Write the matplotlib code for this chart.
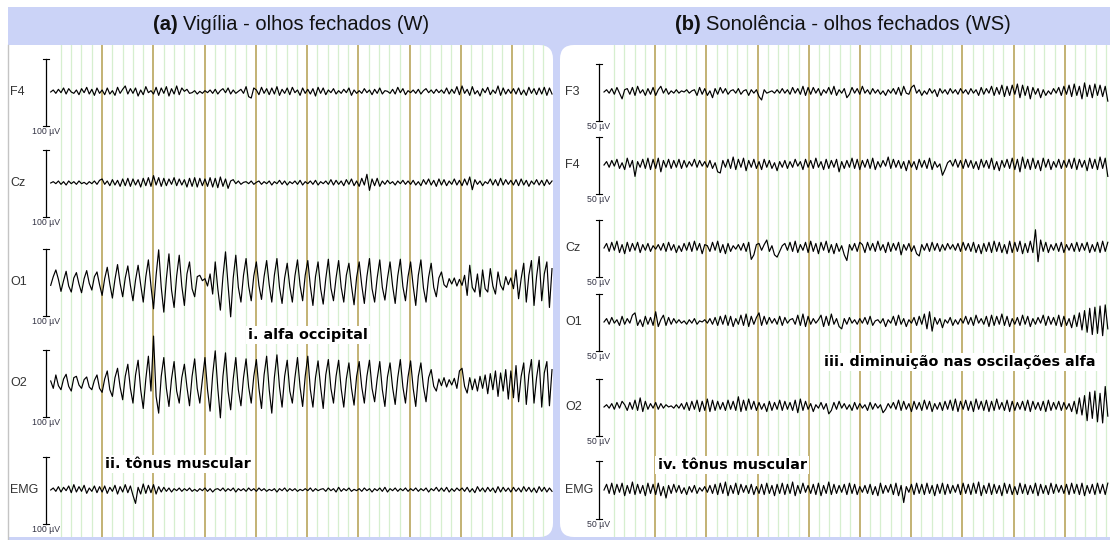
import numpy as np
import matplotlib
matplotlib.use('Agg')
import matplotlib.pyplot as plt
from matplotlib.patches import FancyBboxPatch, Rectangle

plt.rcParams['font.family'] = ['Liberation Sans', 'DejaVu Sans']

# ---- data (µV, ~40 samples per second) ----
# (a) Vigilia - olhos fechados, scale 100 uV
w_labels = ['F4', 'Cz', 'O1', 'O2', 'EMG']
w_f4 = [0,3,-2,4,-1,6,-3,5,0,-2,3,-4,5,-1,7,-3,4,-5,6,-2,
        3,-4,6,-3,2,-5,7,-2,4,9,-3,5,-2,6,-6,3,-4,8,-1,2,
        -3,7,-5,6,-2,8,-6,5,-3,9,-4,6,1,4,-2,-1,2,-3,1,-2,
        2,-1,3,-2,4,-3,2,5,-1,6,-3,3,-2,1,4,-2,8,-7,-9,6,
        3,-4,7,-2,5,-4,6,-3,8,-5,4,-2,6,-4,7,-1,3,-5,6,-2,
        4,-3,5,-6,7,-2,6,-4,3,-1,5,-3,2,-2,4,-1,6,-5,3,-2,
        2,-2,5,-1,3,-4,4,-2,6,-3,2,1,-2,4,-3,7,-1,5,-4,2,
        -1,3,-2,4,-3,2,5,-1,3,-2,4,-1,3,-2,6,-3,4,-2,8,-4,
        9,-2,4,-5,8,-3,2,-6,5,-1,7,-4,3,-2,9,-5,6,-3,4,-2,
        5,-3,6,-4,3,-5,7,-2,5,-4,6,-3,7,-5,6,-3]
w_cz = [0,2,-1,3,-2,2,-3,3,-1,2,-2,3,-1,1,-2,2,-1,3,-2,4,
        6,-2,3,-4,5,-3,4,-5,6,-4,7,-5,6,-3,5,-6,7,-4,8,-5,
        11,-3,8,-5,7,-4,6,-2,8,-4,6,-3,5,-6,7,-5,8,-6,7,-4,
        6,-5,8,-6,7,-7,9,-5,6,-8,3,5,-1,3,-2,1,2,-1,3,-2,
        1,3,-2,2,-1,3,-3,2,-1,4,-2,3,-3,2,-1,3,-2,4,-3,2,
        -1,3,-2,4,-3,2,-1,3,-2,5,-3,4,-2,3,-4,5,-2,6,-4,3,
        -5,7,-3,13,-11,6,-4,7,-5,3,-2,4,-1,2,-3,3,-1,4,-2,3,
        -2,4,-3,2,-4,5,-2,6,-3,4,-5,6,-3,5,-4,3,-2,6,-3,4,
        -4,6,-3,9,-10,5,-2,3,-4,2,-1,6,-3,5,-4,7,-3,5,-2,4,
        -3,5,-4,6,-3,4,-5,3,-2,5,-3,4,-4,5,-2,3]
w_o1 = [-5,8,18,4,-14,2,16,-6,-15,6,14,-3,-16,5,17,-2,-12,8,15,-4,
        -20,5,22,-3,-24,4,26,-2,-22,6,24,-5,-28,3,25,-4,-30,8,33,-6,
        -40,10,48,-8,-45,5,42,-12,-38,9,40,-6,-35,12,30,-10,-22,8,10,2,
        5,-6,12,-18,30,-10,-42,8,45,-5,-52,6,40,-8,-30,10,35,-6,-28,9,
        30,-5,-26,8,32,-4,-30,10,35,-8,-32,6,28,-7,-30,9,33,-5,-28,10,
        32,-6,-35,8,30,-10,-33,5,34,-9,-28,6,32,-8,-30,10,28,-6,-34,7,
        30,-5,-32,8,35,-10,-30,6,33,-8,-27,5,30,-6,-32,9,34,-7,-28,8,
        30,-6,-35,10,33,-9,-30,7,28,-8,-22,6,15,-4,-8,5,-3,6,-6,4,
        -5,10,-20,25,-8,-15,12,-22,18,-10,-15,20,-6,-18,15,-5,-12,8,-4,6,
        -10,18,-25,5,28,-30,10,32,-35,8,38,-28,12,30,-38,20]
w_o2 = [3,-8,12,-4,-10,6,13,-5,-12,8,10,-3,-8,5,9,-6,-10,4,12,-8,
        -14,6,18,-10,-20,8,22,-6,-25,10,28,-8,-30,12,34,-10,-38,6,40,-12,
        70,-20,-45,10,38,-8,-35,6,32,-12,-30,8,28,-6,-34,10,36,-8,-30,5,
        38,-10,-42,12,48,-8,-52,10,45,-12,-40,6,38,-10,-34,8,36,-6,-30,10,
        35,-8,-38,12,40,-10,-45,8,42,-6,-36,10,34,-12,-30,8,38,-6,-35,10,
        40,-10,-36,8,33,-6,-38,12,35,-8,-30,10,34,-9,-36,6,30,-8,-33,10,
        32,-6,-30,10,34,-8,-28,6,32,-10,-35,9,30,-7,-32,8,35,-6,-30,9,
        33,-8,-35,10,30,-6,-28,8,20,-5,-12,6,-4,8,-6,5,-3,7,-8,18,
        22,-5,-15,8,-10,6,-12,10,-8,12,-16,14,-10,18,-20,15,-12,20,-24,18,
        -22,26,-28,10,30,-32,12,35,-30,8,34,-36,15,32,-34,20]
w_emg = [0,3,-2,5,-3,4,-1,6,-4,8,-3,5,-2,7,-5,3,-2,6,-4,5,
         -3,6,-5,4,-2,7,-6,5,-3,8,-4,6,-8,-20,4,-6,9,-5,7,-4,
         8,-6,5,-3,4,-2,3,-3,2,-1,3,-2,2,-1,3,-2,1,-2,2,-1,
         3,-2,2,-3,1,2,-1,3,-2,2,-1,3,-3,2,-1,2,-2,3,-1,2,
         -2,3,-1,2,-2,1,-1,2,-3,2,-1,3,-2,2,-1,2,-2,1,-1,2,
         -1,3,-2,2,-1,1,2,-2,3,-1,2,-3,4,-2,2,-1,3,-2,1,-1,
         2,-2,3,-1,2,-3,2,-1,3,-2,4,-3,2,-1,3,-2,2,-1,3,-2,
         2,-1,3,-2,2,-1,3,-3,2,-1,4,-2,3,-2,4,-3,2,-2,3,-1,
         3,-2,4,-3,2,-4,5,-2,3,-3,4,-2,3,-4,5,-3,4,-2,3,-3,
         4,-2,3,-3,5,-2,4,-3,3,-4,5,-2,4,-3,3,-2]

# (b) Sonolencia - olhos fechados, scale 50 uV
ws_labels = ['F3', 'F4', 'Cz', 'O1', 'O2', 'EMG']
ws_f3 = [0,2,-1,3,-2,4,-1,-6,2,3,-2,4,-3,5,-1,2,-3,3,-2,4,
         -3,2,5,-1,3,-2,1,-1,2,-1,1,0,2,-1,1,2,-3,4,-2,3,
         -3,1,-5,3,-2,4,-1,3,-2,1,2,-1,3,-2,1,2,-3,2,-1,2,
         -4,-7,2,-1,0,1,-1,2,-1,3,-1,2,-2,4,-1,3,-2,5,-3,4,
         -2,4,-1,3,-3,2,-1,4,-2,5,-3,2,-1,3,-5,-2,4,-1,3,-2,
         5,-1,2,-2,3,-1,2,-2,1,-3,2,-1,3,-2,4,-3,5,-1,-2,4,
         6,-1,2,-3,1,-2,3,-1,2,-4,3,-1,2,-2,3,-1,2,-2,3,-1,
         2,-2,3,-1,2,-3,4,-2,3,-1,5,-3,4,-2,6,-4,5,-3,6,-2,
         7,-5,6,-3,5,-6,4,-2,3,-5,2,-3,1,-2,3,-1,4,-3,5,-2,
         6,-4,7,-3,5,-6,8,-4,6,-5,7,-3,6,-4,5,-8]
ws_f4 = [0,3,-2,4,-1,5,-3,2,-4,6,-2,4,-10,3,-2,5,-3,6,-4,5,
         -3,6,-6,4,-2,5,-3,4,-2,5,-3,4,-2,3,-1,5,-2,4,-1,3,
         -2,4,-3,2,-6,-7,4,-2,5,-3,7,-4,5,-2,6,-5,4,-2,5,-3,
         3,-4,5,-2,4,-3,2,-5,3,-2,4,-3,3,-2,5,-1,3,-4,5,-2,
         4,-3,6,-2,3,-4,5,-3,4,-2,5,-6,3,-3,4,-2,6,-3,5,-4,
         4,-2,5,-3,6,-4,3,-2,4,-1,7,-3,5,-2,4,-3,3,-5,4,-2,
         3,-4,5,-2,4,-3,6,-4,3,-2,1,-9,-4,2,4,-1,5,-2,4,-3,
         5,-2,4,-3,3,-4,5,-2,4,-3,6,-4,3,-5,4,-2,5,-3,6,-4,
         5,-6,7,-3,5,-4,6,-3,4,-5,6,-2,5,-4,3,-2,5,-3,4,-2,
         5,-3,6,-4,5,-2,4,-5,6,-3,5,-4,7,-3,6,-10]
ws_cz = [0,4,-3,5,-2,6,-4,3,-5,5,-3,4,-2,5,-4,3,-2,4,-3,2,
         -1,3,-2,4,-3,5,-2,3,-4,2,-3,4,-2,5,-3,6,-2,4,-5,3,
         2,-3,5,-2,6,-4,3,-5,4,-3,2,-1,3,-2,4,-3,5,-10,-6,3,
         4,-2,3,7,-3,2,-6,-8,-3,2,4,-2,5,-3,6,-4,3,-2,5,-4,
         6,-3,4,-5,5,-2,6,-4,3,-5,4,-3,2,-6,-11,3,-2,4,-3,5,
         3,-4,5,-2,4,-3,6,-2,3,-4,5,-3,4,-2,5,-6,3,-2,4,-3,
         2,-5,-7,3,-2,4,-3,5,-2,4,-3,3,-2,4,-1,3,-2,4,-3,5,
         -2,4,-3,5,-4,3,-5,4,-3,5,-4,6,-3,5,-4,3,-5,6,-4,5,
         -3,6,-5,4,-4,6,-4,16,-12,7,-3,5,-4,3,-2,4,-3,5,-4,3,
         -2,4,-3,5,-3,4,-2,5,-4,3,-3,5,-4,6,-3,5]
ws_o1 = [0,3,-2,4,-1,2,-3,5,-2,3,-1,6,8,-3,2,-4,5,-2,4,-3,
         9,-4,2,6,-3,4,-2,3,-1,2,-1,1,-2,2,-1,3,-2,1,0,2,
         -1,3,-2,4,-3,5,-2,6,-3,5,-4,3,-2,6,-3,7,-4,5,-2,4,
         8,-3,5,-2,4,-1,3,-2,5,-3,4,-1,2,3,-2,6,-3,7,-4,5,
         -2,3,-1,2,6,-4,5,-3,7,-2,3,-4,-6,3,-2,4,-1,2,-2,3,
         -1,4,-2,5,-3,1,2,-1,3,-4,2,-1,5,-3,6,-2,3,-4,2,-1,
         4,-3,5,-2,7,-6,9,-8,4,-2,3,-5,2,-1,4,-3,2,-2,3,-1,
         5,-2,4,-3,6,-1,3,-2,5,-4,6,-3,5,-2,7,-3,5,-4,3,-2,
         4,-3,6,-2,5,-4,3,-2,4,-1,6,-3,5,-2,4,-3,6,-4,5,-3,
         3,-5,6,-4,8,-7,10,-9,12,-11,13,-10,14,-12,15,-6]
ws_o2 = [0,2,-1,3,-2,4,-1,5,2,-3,4,-2,6,-3,8,-4,5,-2,3,-1,
         4,-2,3,-1,2,0,1,-1,2,-1,3,-2,4,-3,5,-2,6,-4,5,-3,
         7,-4,6,-3,5,-2,4,-3,6,-2,5,-3,9,-4,6,-3,7,-2,5,-3,
         4,-2,3,-4,5,-3,4,-2,6,-3,5,-2,4,-3,6,-5,7,-3,5,-2,
         3,-4,2,-1,4,-2,3,-6,-3,4,-2,5,-1,3,-2,2,-3,4,-2,3,
         -1,2,-3,4,-2,3,-1,2,-5,-2,3,-1,4,-2,6,-3,5,-2,3,-4,
         5,-2,4,-3,6,-2,5,-4,3,-2,4,-3,5,-2,6,-3,7,-4,5,-2,
         6,-3,5,-4,7,-2,5,-3,6,-4,5,-3,7,-2,4,-3,6,-4,5,-3,
         4,-2,5,-3,6,-4,5,-2,4,-3,5,-4,6,-3,4,-2,5,-3,4,-2,
         3,-4,5,-6,8,-7,10,-12,13,-10,14,-13,12,-14,18,-8]
ws_emg = [0,5,-3,6,-4,5,-2,6,-5,4,-3,7,-4,5,-3,4,-5,6,-3,5,
          -4,6,-5,3,-7,4,-3,5,-2,4,-3,2,-4,3,-2,4,-3,2,-1,3,
          -2,4,-3,5,-4,6,-3,7,-5,4,-3,6,-4,5,-2,4,-3,5,-4,3,
          -3,5,-4,6,-3,4,-5,5,-3,6,-4,5,-3,7,-5,4,-3,6,-2,4,
          -3,5,-4,6,-5,4,-3,7,-4,5,-3,4,-2,5,-4,6,-3,5,-4,3,
          -2,4,-3,5,-4,3,-5,6,-3,4,-2,5,-4,6,-5,4,-11,3,-2,5,
          -4,6,-3,5,-4,6,-3,4,-5,5,-3,6,-4,5,-3,4,-2,5,-4,6,
          -3,5,-4,6,-3,7,-5,4,-3,6,-4,5,-3,4,-5,6,-3,5,-4,3,
          -4,6,-3,5,-4,4,-3,6,-5,5,-3,4,-4,6,-3,5,-2,4,-3,5,
          -4,6,-3,5,-4,6,-5,4,-3,5,-4,6,-3,5,-4,6]

W, H = 1110, 540
TOP, BOT = 45, 537
BAND = '#cbd3f7'
GREEN = '#d6efcf'
GOLD = '#b9a55c'

fig = plt.figure(figsize=(W / 100, H / 100), dpi=100)
fig.patch.set_facecolor('white')

# background in pixel units
bg = fig.add_axes([0, 0, 1, 1])
bg.set_xlim(0, W)
bg.set_ylim(H, 0)
bg.axis('off')
bg.add_patch(Rectangle((8, 7), W - 8, H - 7, fc=BAND, ec='none'))
bg.add_patch(FancyBboxPatch((8, TOP), 545, BOT - TOP,
                            boxstyle='round,pad=0,rounding_size=14', fc='white', ec='none'))
bg.add_patch(Rectangle((8, TOP), 30, BOT - TOP, fc='white', ec='none'))
bg.add_patch(FancyBboxPatch((560, TOP), 600, BOT - TOP,
                            boxstyle='round,pad=0,rounding_size=14', fc='white', ec='none'))
bg.plot([8, 8], [TOP, H], color='#c4c4c4', lw=1)


def title(cx, cy, bold, rest):
    r = fig.canvas.get_renderer()
    tb = bg.text(0, cy, bold, fontsize=14.5, fontweight='bold', va='center', color='#111')
    tr = bg.text(0, cy, rest, fontsize=14.5, va='center', color='#111')
    wb = tb.get_window_extent(r).width
    wr = tr.get_window_extent(r).width
    x0 = cx - (wb + 5 + wr) / 2
    tb.set_x(x0)
    tr.set_x(x0 + wb + 5)


title(291, 25, '(a)', 'Vigília - olhos fechados (W)')
title(843, 25, '(b)', 'Sonolência - olhos fechados (WS)')


def panel(left, right, t0, pps, k, dur, ngrid, labels, traces, base_px,
          bar_px, lab_px, bar_uv):
    ax = fig.add_axes([left / W, (H - BOT) / H, (right - left) / W, (BOT - TOP) / H])
    ax.set_xlim((left - t0) / pps, (right - t0) / pps)
    ax.set_ylim((BOT - TOP) * k, 0)
    ax.axis('off')
    for i in range(1, ngrid + 1):
        if i % 5 == 0:
            ax.axvline(i * 0.1, color=GOLD, lw=1.2, zorder=1)
        else:
            ax.axvline(i * 0.1, color=GREEN, lw=0.9, zorder=0)
    bx = (bar_px - t0) / pps
    cap = 3 / pps
    for lab, vals, ypx in zip(labels, traces, base_px):
        base = (ypx - TOP) * k
        t = np.linspace(0, dur, len(vals))
        ax.plot(t, base - np.array(vals), color='black', lw=0.85, zorder=3)
        half = bar_uv / 2
        ax.plot([bx, bx], [base - half, base + half], color='black', lw=0.9)
        ax.plot([bx - cap, bx + cap], [base - half, base - half], color='black', lw=0.8)
        ax.plot([bx - cap, bx + cap], [base + half, base + half], color='black', lw=0.8)
        ax.text(bx, base + half + 6 * k, '%d µV' % bar_uv, fontsize=6.3,
                ha='center', va='center', color='#333344')
        ax.text((lab_px - t0) / pps, base, lab, fontsize=9, ha='left',
                va='center', color='#333333')
    return ax


panel(8, 553, 50.7, 102.6, 100 / 67, 4.886, 48, w_labels,
      [w_f4, w_cz, w_o1, w_o2, w_emg], [92, 183, 282, 383, 490], 46, 10, 100)
panel(560, 1110, 604, 102.4, 50 / 57, 4.92, 49, ws_labels,
      [ws_f3, ws_f4, ws_cz, ws_o1, ws_o2, ws_emg], [92, 165, 248, 322, 407, 490],
      599, 565, 50)

# overlay for the annotations, on top of the traces
top = fig.add_axes([0, 0, 1, 1])
top.set_xlim(0, W)
top.set_ylim(H, 0)
top.axis('off')
box = dict(facecolor='white', edgecolor='none', pad=1.5)
for x, y, s in [(308, 335, 'i. alfa occipital'), (178, 464, 'ii. tônus muscular'),
                (960, 362, 'iii. diminuição nas oscilações alfa'),
                (732, 465, 'iv. tônus muscular')]:
    top.text(x, y, s, fontsize=10.4, fontweight='bold', family=['DejaVu Sans'],
             ha='center', va='center', color='black', bbox=box)

fig.savefig('out.png', dpi=100)
